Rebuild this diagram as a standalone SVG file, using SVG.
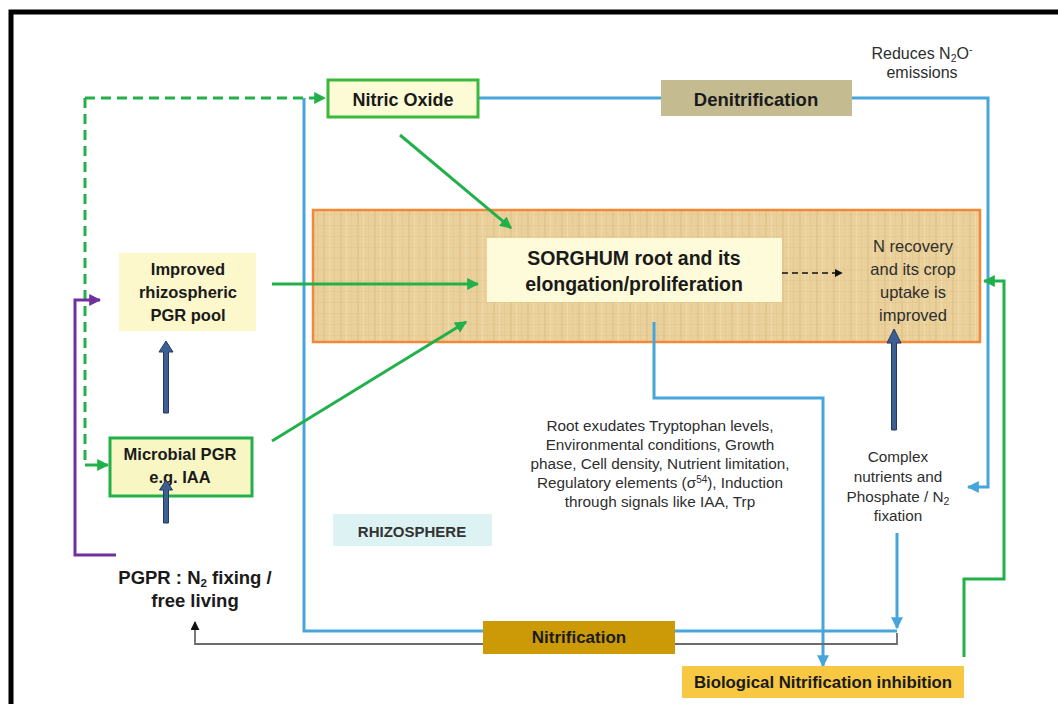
<svg xmlns="http://www.w3.org/2000/svg" width="1058" height="704" viewBox="0 0 1058 704">
<style>
  text { font-family: "Liberation Sans", Arial, sans-serif; fill: #1a1a1a; text-anchor: middle; }
  .b { font-weight: bold; }
  .r { fill: #2e2e2e; }
  .blue { fill: none; stroke: #47a5dc; stroke-width: 3; }
  .green { fill: none; stroke: #22b04b; stroke-width: 3; }
  .darr { fill: #3d5f93; stroke: #25395c; stroke-width: 1; }
</style>
<defs>
  <marker id="mg" viewBox="0 0 10 10" refX="9" refY="5" markerWidth="4" markerHeight="4" orient="auto" markerUnits="strokeWidth">
    <path d="M0,0 L10,5 L0,10 z" fill="#22b04b"/>
  </marker>
  <marker id="mb" viewBox="0 0 10 10" refX="9" refY="5" markerWidth="4" markerHeight="4" orient="auto" markerUnits="strokeWidth">
    <path d="M0,0 L10,5 L0,10 z" fill="#47a5dc"/>
  </marker>
  <marker id="mp" viewBox="0 0 10 10" refX="9" refY="5" markerWidth="4" markerHeight="4" orient="auto" markerUnits="strokeWidth">
    <path d="M0,0 L10,5 L0,10 z" fill="#7030a0"/>
  </marker>
  <marker id="mk" viewBox="0 0 10 10" refX="9" refY="5" markerWidth="6" markerHeight="6" orient="auto" markerUnits="strokeWidth">
    <path d="M0,0 L10,5 L0,10 z" fill="#111"/>
  </marker>
  <marker id="mgr" viewBox="0 0 10 10" refX="9" refY="5" markerWidth="5" markerHeight="5" orient="auto" markerUnits="strokeWidth">
    <path d="M0,0 L10,5 L0,10 z" fill="#111"/>
  </marker>
  <pattern id="papyrus" width="17" height="11" patternUnits="userSpaceOnUse">
    <rect width="17" height="11" fill="#ead09a"/>
    <rect x="0" y="0" width="2" height="11" fill="#dcbd82" opacity="0.5"/>
    <rect x="6" y="0" width="1" height="11" fill="#f3e0b4" opacity="0.7"/>
    <rect x="11" y="0" width="1" height="11" fill="#dec088" opacity="0.4"/>
    <rect x="0" y="5" width="17" height="1" fill="#e0c48e" opacity="0.5"/>
  </pattern>
</defs>
<rect width="1058" height="704" fill="#ffffff"/>
<!-- frame -->
<path d="M11,704 L11,12 L1058,12" fill="none" stroke="#000" stroke-width="5"/>

<g id="root-zone">
  <rect x="313" y="210" width="667" height="132" fill="url(#papyrus)" stroke="#f2893a" stroke-width="2.5"/>
</g>

<g id="connectors">
  <path class="blue" d="M304,98 L304,631 L897,631"/>
  <path class="blue" d="M479,98 L988,98 L988,487 L968,487" marker-end="url(#mb)"/>
  <path class="blue" d="M897,533 L897,628" marker-end="url(#mb)"/>
  <path class="blue" d="M654,322 L654,398 L823,398 L823,666" marker-end="url(#mb)"/>
  <path d="M897,633 L897,644 L195,644 L195,622" fill="none" stroke="#6b6b6b" stroke-width="1.8" marker-end="url(#mgr)"/>
  <path class="green" d="M85,98 L85,465" stroke-dasharray="10,6"/>
  <path class="green" d="M85,98 L325,98" stroke-dasharray="10,6" marker-end="url(#mg)"/>
  <path class="green" d="M85,465 L108,465" marker-end="url(#mg)"/>
  <path class="green" d="M400,135 L511,228" marker-end="url(#mg)"/>
  <path class="green" d="M272,284 L478,284" marker-end="url(#mg)"/>
  <path class="green" d="M272,441 L466,322" marker-end="url(#mg)"/>
  <path class="green" d="M964,657 L964,579 L1004,579 L1004,281 L984,281" marker-end="url(#mg)"/>
  <path d="M116,555 L75,555 L75,300 L100,300" fill="none" stroke="#7030a0" stroke-width="3" marker-end="url(#mp)"/>
  <path d="M782,273 L842,273" fill="none" stroke="#111" stroke-width="1.3" stroke-dasharray="6,4" marker-end="url(#mk)"/>
</g>

<g id="nitric-oxide">
  <rect x="328" y="80" width="150" height="37" fill="#fcfbd6" stroke="#3cb83c" stroke-width="3"/>
  <text class="b" x="403" y="106" font-size="18">Nitric Oxide</text>
</g>

<g id="denitrification">
  <rect x="661" y="80" width="191" height="36" fill="#c5bb91"/>
  <text class="b" x="756" y="106" font-size="18.5">Denitrification</text>
</g>

<g id="reduces">
  <text class="r" x="922" y="59" font-size="16">Reduces N<tspan font-size="10.5" dy="3">2</tspan><tspan dy="-3">O</tspan><tspan font-size="10.5" dy="-6">-</tspan></text>
  <text class="r" x="922" y="78" font-size="16">emissions</text>
</g>

<g id="sorghum">
  <rect x="487" y="238" width="295" height="64" fill="#fdfbd9"/>
  <text class="b" x="634" y="265" font-size="19.5">SORGHUM root and its</text>
  <text class="b" x="634" y="291" font-size="19.5">elongation/proliferation</text>
</g>

<g id="n-recovery">
  <text class="r" x="913" y="252" font-size="16.5">N recovery</text>
  <text class="r" x="913" y="275" font-size="16.5">and its crop</text>
  <text class="r" x="913" y="298" font-size="16.5">uptake is</text>
  <text class="r" x="913" y="321" font-size="16.5">improved</text>
</g>

<g id="improved-pgr">
  <rect x="119" y="253" width="137" height="78" fill="#fcf8cc"/>
  <text class="b" x="188" y="275" font-size="16.5">Improved</text>
  <text class="b" x="188" y="298" font-size="16.5">rhizospheric</text>
  <text class="b" x="188" y="321" font-size="16.5">PGR pool</text>
</g>

<g id="microbial-pgr">
  <rect x="110" y="438" width="142" height="58" fill="#f8f6c2" stroke="#22b04b" stroke-width="3"/>
  <text class="b" x="180" y="460" font-size="16.5">Microbial PGR</text>
  <text class="b" x="180" y="483" font-size="16.5">e.g. IAA</text>
</g>

<g id="block-arrows">
  <path class="darr" d="M163.5,413 L163.5,352 L159,352 L166,341 L173,352 L168.5,352 L168.5,413 Z"/>
  <path class="darr" d="M163.5,523 L163.5,490 L159.5,490 L166,480 L172.5,490 L168.5,490 L168.5,523 Z"/>
  <path class="darr" d="M891.5,430 L891.5,343 L887,343 L894,329 L901,343 L896.5,343 L896.5,430 Z"/>
</g>

<g id="pgpr">
  <text class="b" x="195" y="584" font-size="18.5">PGPR : N<tspan font-size="11.5" dy="3">2</tspan><tspan dy="-3"> fixing /</tspan></text>
  <text class="b" x="195" y="607" font-size="18.5">free living</text>
</g>

<g id="rhizosphere">
  <rect x="333" y="514" width="159" height="32" fill="#dcf2f3"/>
  <text class="b" x="412" y="537" font-size="15" style="fill:#333">RHIZOSPHERE</text>
</g>

<g id="root-exudates">
  <text class="r" x="660" y="431" font-size="15.3">Root exudates Tryptophan levels,</text>
  <text class="r" x="660" y="450" font-size="15.3">Environmental conditions, Growth</text>
  <text class="r" x="660" y="469" font-size="15.3">phase, Cell density, Nutrient limitation,</text>
  <text class="r" x="660" y="488" font-size="15.3">Regulatory elements (σ<tspan font-size="10" dy="-5">54</tspan><tspan dy="5">), Induction</tspan></text>
  <text class="r" x="660" y="507" font-size="15.3">through signals like IAA, Trp</text>
</g>

<g id="complex-nutrients">
  <text class="r" x="898" y="462" font-size="15.3">Complex</text>
  <text class="r" x="898" y="482" font-size="15.3">nutrients and</text>
  <text class="r" x="898" y="502" font-size="15.3">Phosphate / N<tspan font-size="10.5" dy="3">2</tspan></text>
  <text class="r" x="898" y="521" font-size="15.3">fixation</text>
</g>

<g id="nitrification">
  <rect x="483" y="621" width="192" height="33" fill="#cc9a06"/>
  <text class="b" x="579" y="643" font-size="17">Nitrification</text>
</g>

<g id="bni">
  <rect x="682" y="666" width="282" height="32" fill="#f8c843"/>
  <text class="b" x="823" y="688" font-size="16.8">Biological Nitrification inhibition</text>
</g>
</svg>
